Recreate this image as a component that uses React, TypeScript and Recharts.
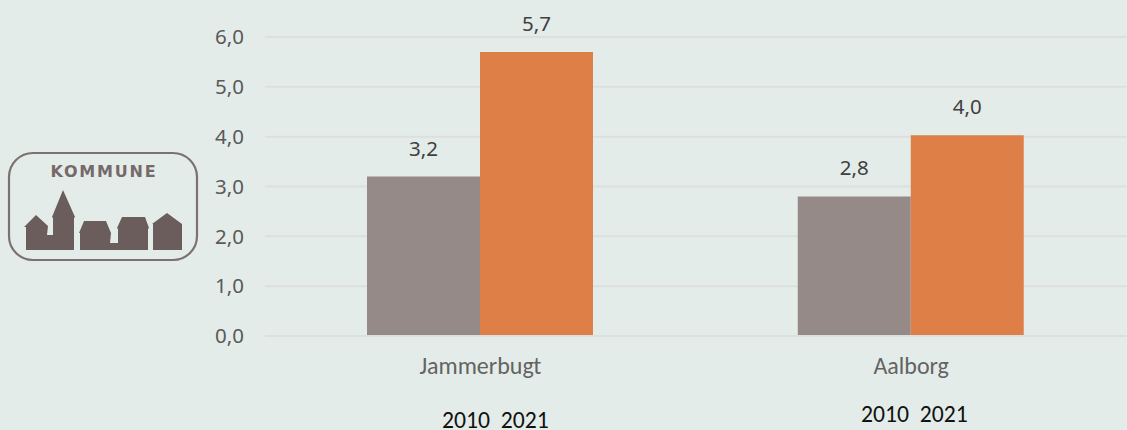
import { BarChart, Bar, XAxis, YAxis, CartesianGrid, LabelList } from "recharts";

const categories = ["Jammerbugt", "Aalborg"];
const values2010 = [3.2, 2.8];
const values2021 = [5.7, 4.03];
const yTicks = [0, 1, 2, 3, 4, 5, 6];

const chartData = categories.map((name, i) => ({
  name,
  y2010: values2010[i],
  y2021: values2021[i],
}));

const formatComma = (val: number) => val.toFixed(1).replace(".", ",");
const numberFont = "Noto Sans, sans-serif";
const labelFont = "Carlito, Lato, sans-serif";

function KommuneLogo() {
  const fill = "#6a5d5b";
  return (
    <svg
      width={210}
      height={130}
      viewBox="0 140 210 130"
      style={{ position: "absolute", left: 0, top: 140 }}
    >
      <rect x={9} y={153} width={188} height={107} rx={24} fill="none" stroke="#7d716f" strokeWidth={2.2} />
      <text
        x={104}
        y={177}
        textAnchor="middle"
        fontFamily="DejaVu Sans, sans-serif"
        fontWeight={700}
        fontSize={16}
        letterSpacing={1.8}
        fill="#75696a"
      >
        KOMMUNE
      </text>
      <path
        fill={fill}
        d="M24 227 L36 215 L48 226 L47 235 L53 235 L53 218 L52 217 L63 190 L75 217 L74 218 L74 250 L26 250 L26 227 Z"
      />
      <path
        fill={fill}
        d="M79 233 L84 221 L106 221 L111 233 L110 243 L118 243 L118 229 L117 228 L122 217 L145 217 L149 228 L148 229 L148 250 L80 250 L80 233 Z"
      />
      <path fill={fill} d="M152 224 L167 213 L182 224 L182 250 L153 250 L153 224 Z" />
    </svg>
  );
}

const yearLabelStyle = {
  position: "absolute" as const,
  fontFamily: labelFont,
  fontSize: 23.7,
  lineHeight: "20px",
  color: "#111",
  whiteSpace: "pre" as const,
};

export default function App() {
  return (
    <div
      style={{
        position: "absolute",
        left: 0,
        top: 0,
        width: 1127,
        height: 430,
        background: "#e4ecE9",
        overflow: "hidden",
      }}
    >
      <BarChart
        width={1127}
        height={430}
        data={chartData}
        margin={{ top: 37, right: 0.5, left: 0, bottom: 0 }}
        barSize={113}
        barGap={0}
      >
        <CartesianGrid horizontal vertical={false} stroke="#dddfde" strokeWidth={2} />
        <XAxis
          dataKey="name"
          height={94}
          tickLine={false}
          axisLine={{ stroke: "#dddfde", strokeWidth: 2 }}
          tickMargin={15}
          tick={{ fontFamily: labelFont, fontSize: 24, fill: "#636363" }}
        />
        <YAxis
          width={265}
          domain={[0, 6]}
          ticks={yTicks}
          tickFormatter={formatComma}
          tickLine={false}
          axisLine={false}
          tickMargin={15}
          tick={{ fontFamily: numberFont, fontSize: 20.5, fill: "#595959" }}
        />
        <Bar dataKey="y2010" fill="#968a88" isAnimationActive={false}>
          <LabelList
            dataKey="y2010"
            position="top"
            offset={21}
            formatter={formatComma}
            style={{ fontFamily: numberFont, fontSize: 20.5, fill: "#404040" }}
          />
        </Bar>
        <Bar dataKey="y2021" fill="#dd7f47" isAnimationActive={false}>
          <LabelList
            dataKey="y2021"
            position="top"
            offset={21}
            formatter={formatComma}
            style={{ fontFamily: numberFont, fontSize: 20.5, fill: "#404040" }}
          />
        </Bar>
      </BarChart>
      <KommuneLogo />
      <div style={{ ...yearLabelStyle, left: 442, top: 410 }}>2010  2021</div>
      <div style={{ ...yearLabelStyle, left: 861, top: 404 }}>2010  2021</div>
    </div>
  );
}
